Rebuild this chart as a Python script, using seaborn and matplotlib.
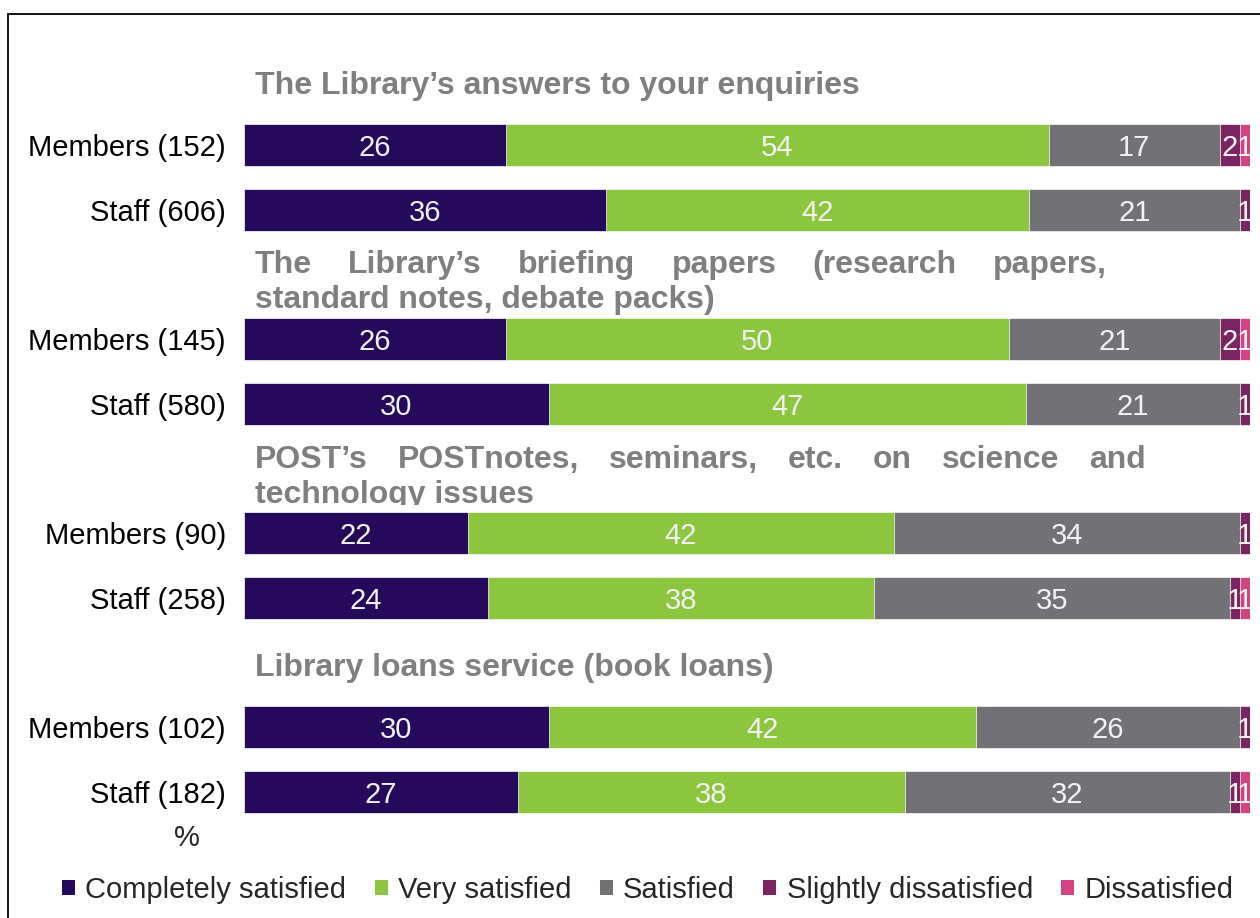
"""Stacked satisfaction bars: Library / POST services, Members vs Staff."""

import matplotlib

matplotlib.use("Agg")

import matplotlib.pyplot as plt
import pandas as pd
import seaborn as sns
from matplotlib.patches import Patch, Rectangle
from matplotlib.transforms import Bbox

# --- data (percent, rounded as printed) ---
ROW_LABELS = [
    "Members (152)", "Staff (606)",
    "Members (145)", "Staff (580)",
    "Members (90)", "Staff (258)",
    "Members (102)", "Staff (182)",
]
COMPLETELY = [26, 36, 26, 30, 22, 24, 30, 27]
VERY = [54, 42, 50, 47, 42, 38, 42, 38]
SATISFIED = [17, 21, 21, 21, 34, 35, 26, 32]
SLIGHTLY = [2, 1, 2, 1, 1, 1, 1, 1]
DISSATISFIED = [1, 0, 1, 0, 0, 1, 0, 1]

CATEGORIES = [
    "Completely satisfied", "Very satisfied", "Satisfied",
    "Slightly dissatisfied", "Dissatisfied",
]
COLORS = ["#25095A", "#8CC63F", "#727175", "#7A2462", "#D04581"]

GROUP_TITLES = [
    ["The Library\u2019s answers to your enquiries"],
    ["The Library\u2019s briefing papers (research papers,",
     "standard notes, debate packs)"],
    ["POST\u2019s POSTnotes, seminars, etc. on science and",
     "technology issues"],
    ["Library loans service (book loans)"],
]

# --- layout (pixels of a 1260x918 canvas) ---
W, H = 1260, 918
ROW_POS = [0, 1, 3, 4, 6, 7, 9, 10]
PX_PER_ROW = 64.7
FIRST_ROW_Y = 145
AX_TOP, AX_BOTTOM = 20, 850
TITLE_LAYOUT = [  # (left, centre y of each line, justify-to right edge)
    (255, [86], None),
    (255, [265, 300], 1107),
    (255, [460, 495], 1146),
    (255, [668], None),
]
TITLE_CLIP_Y = 505

sns.set_style("white")
plt.rcParams["font.family"] = ["Liberation Sans", "DejaVu Sans"]

values = pd.DataFrame(
    {
        "row": ROW_LABELS,
        "pos": ROW_POS,
        CATEGORIES[0]: COMPLETELY,
        CATEGORIES[1]: VERY,
        CATEGORIES[2]: SATISFIED,
        CATEGORIES[3]: SLIGHTLY,
        CATEGORIES[4]: DISSATISFIED,
    }
)
# bars fill 100% (printed figures are rounded, so rows sum to 99-101)
shares = values[CATEGORIES].div(values[CATEGORIES].sum(axis=1), axis=0) * 100
cum = shares.cumsum(axis=1)

fig = plt.figure(figsize=(W / 100, H / 100), dpi=100)
ax = fig.add_axes(
    [244 / W, 1 - AX_BOTTOM / H, 1006 / W, (AX_BOTTOM - AX_TOP) / H]
)

# overlapping cumulative bars, longest first
for cat, color in reversed(list(zip(CATEGORIES, COLORS))):
    plot_df = pd.DataFrame({"pos": values["pos"], "end": cum[cat]})
    sns.barplot(
        data=plot_df, x="end", y="pos", orient="h", native_scale=True,
        color=color, width=0.65, errorbar=None, ax=ax,
        edgecolor="white", linewidth=0.5, saturation=1,
    )

# segment labels
for i in range(len(values)):
    start = 0
    for cat in CATEGORIES:
        v = values.loc[i, cat]
        s = shares.loc[i, cat]
        if v > 0:
            ax.text(start + s / 2, values.loc[i, "pos"], f"{v}",
                    ha="center", va="center_baseline", color="#F2F2F2",
                    fontsize=21)
        start += s

top_pos = (AX_TOP - FIRST_ROW_Y) / PX_PER_ROW
bottom_pos = (AX_BOTTOM - FIRST_ROW_Y) / PX_PER_ROW
ax.set_ylim(bottom_pos, top_pos)
ax.set_xlim(0, 100)
ax.set_yticks(ROW_POS, ROW_LABELS, fontsize=21, color="black")
ax.tick_params(axis="y", length=0, pad=13)
ax.set_xticks([])
ax.set_xlabel("")
ax.set_ylabel("")
sns.despine(ax=ax, left=True, bottom=True)

fig.text(187 / W, 1 - 838 / H, "%", ha="center", va="center", fontsize=21)

# group titles (bold grey, first line of wrapped titles justified)
renderer = fig.canvas.get_renderer()
title_kw = dict(fontsize=23, fontweight="bold", color="#7F7F7F", va="center")
for lines, (x0, ys, x1) in zip(GROUP_TITLES, TITLE_LAYOUT):
    for k, (line, cy) in enumerate(zip(lines, ys)):
        if x1 is not None and k < len(lines) - 1:
            words = line.split()
            texts = [fig.text(0, 1 - cy / H, w, ha="left", **title_kw) for w in words]
            widths = [t.get_window_extent(renderer).width for t in texts]
            gap = (x1 - x0 - sum(widths)) / (len(words) - 1)
            x = x0
            for t, w in zip(texts, widths):
                t.set_x(x / W)
                x += w + gap
        else:
            t = fig.text(x0 / W, 1 - cy / H, line, ha="left", **title_kw)
            if 480 < cy < 500:
                t.set_clip_box(Bbox.from_extents(0, H - TITLE_CLIP_Y, W, H))
                t.set_clip_on(True)

# legend
handles = [Patch(facecolor=c, edgecolor="none") for c in COLORS]
fig.legend(
    handles, CATEGORIES, loc="center left",
    bbox_to_anchor=(62 / W, 1 - 890 / H), ncol=5, frameon=False,
    fontsize=21, handlelength=0.45, handleheight=0.45,
    handletextpad=0.35, columnspacing=0.97, borderpad=0, borderaxespad=0,
)

# outer frame (runs off the right and bottom edges)
fig.add_artist(
    Rectangle((8 / W, -0.1), 2, 1 - 14 / H + 0.1, transform=fig.transFigure,
              fill=False, edgecolor="black", linewidth=1.3)
)

fig.savefig("out.png", dpi=100)
